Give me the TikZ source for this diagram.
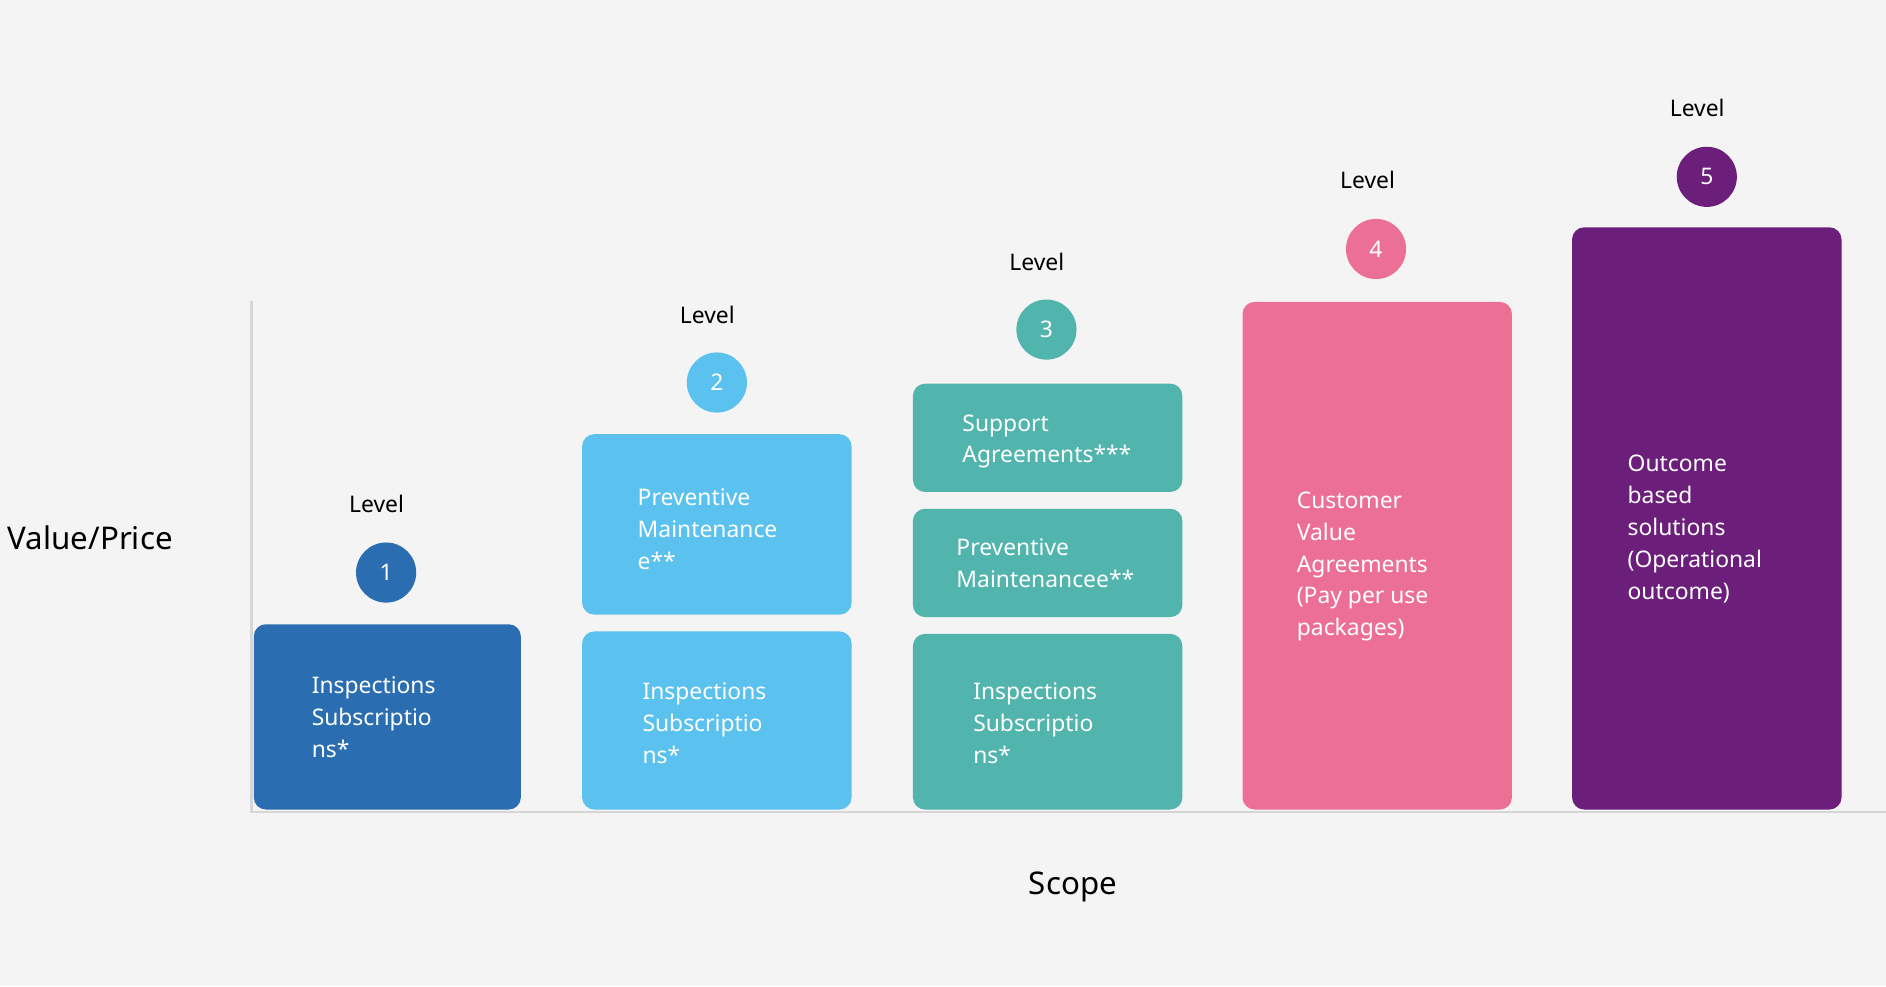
\documentclass[tikz,border=0pt]{standalone}
\usepackage{fontspec}
\setmainfont{Noto Sans}
\definecolor{bg}{HTML}{F4F4F4}
\definecolor{cA}{HTML}{2A6DB0}
\definecolor{cB}{HTML}{5BC1EE}
\definecolor{cC}{HTML}{51B4AD}
\definecolor{cD}{HTML}{EC7095}
\definecolor{cE}{HTML}{6B1E7A}
\definecolor{ax}{HTML}{D6D6D6}
\begin{document}
\begin{tikzpicture}[x=1pt,y=-1pt,
 box/.style={rounded corners=10pt},
 txt/.style={anchor=west,text=white,align=left,font=\fontsize{19}{26.5}\selectfont,inner sep=0},
 lvl/.style={font=\fontsize{19}{22}\selectfont,inner sep=0},
 num/.style={circle,minimum size=50pt,inner sep=0,text=white,font=\fontsize{19}{22}\selectfont}]
\fill[bg] (0,0) rectangle (1568,820);
\useasboundingbox (0,0) rectangle (1568,820);
\draw[ax,line width=2pt] (209,250) coordinate (yt) -- (209,675) coordinate (o) -- (1568,675) coordinate (xe);
% boxes
\fill[cA,box] (211,519) rectangle (433,673);
\fill[cB,box] (484,361) rectangle (708,511);
\fill[cB,box] (484,525) rectangle (708,673);
\fill[cC,box] (759,319) rectangle (983,409);
\fill[cC,box] (759,423) rectangle (983,513);
\fill[cC,box] (759,527) rectangle (983,673);
\fill[cD,box] (1033,251) rectangle (1257,673);
\fill[cE,box] (1307,189) rectangle (1531,673);
% texts
\node[txt] (t1) at (259,596) {Inspections\\Subscriptio\\ns*};
\node[txt] (t2a) at (530,440) {Preventive\\Maintenance\\e**};
\node[txt] (t2b) at (534,601) {Inspections\\Subscriptio\\ns*};
\node[txt] (t3a) at (800,367) {Support\\Agreements***};
\node[txt] (t3b) at (795,468) {Preventive\\Maintenancee**};
\node[txt] (t3c) at (809,601) {Inspections\\Subscriptio\\ns*};
\node[txt] (t4) at (1078,471) {Customer\\Value\\Agreements\\(Pay per use\\packages)};
\node[txt] (t5) at (1353,440) {Outcome\\based\\solutions\\(Operational\\outcome)};
% levels
\node[num,fill=cA] (n1) at (321,476) {1};
\node[num,fill=cB] (n2) at (596,318) {2};
\node[num,fill=cC] (n3) at (870,274) {3};
\node[num,fill=cD] (n4) at (1144,207) {4};
\node[num,fill=cE] (n5) at (1419,147) {5};
\node[lvl] (l1) at (313,419) {Level};
\node[lvl] (l2) at (588,262) {Level};
\node[lvl] (l3) at (862,218) {Level};
\node[lvl] (l4) at (1137,150) {Level};
\node[lvl] (l5) at (1411,90) {Level};
\node[font=\fontsize{26}{30}\selectfont,inner sep=0] (vp) at (75,447) {Value/Price};
\node[font=\fontsize{26}{30}\selectfont,inner sep=0] (sc) at (892,737) {Scope};
\end{tikzpicture}
\end{document}
